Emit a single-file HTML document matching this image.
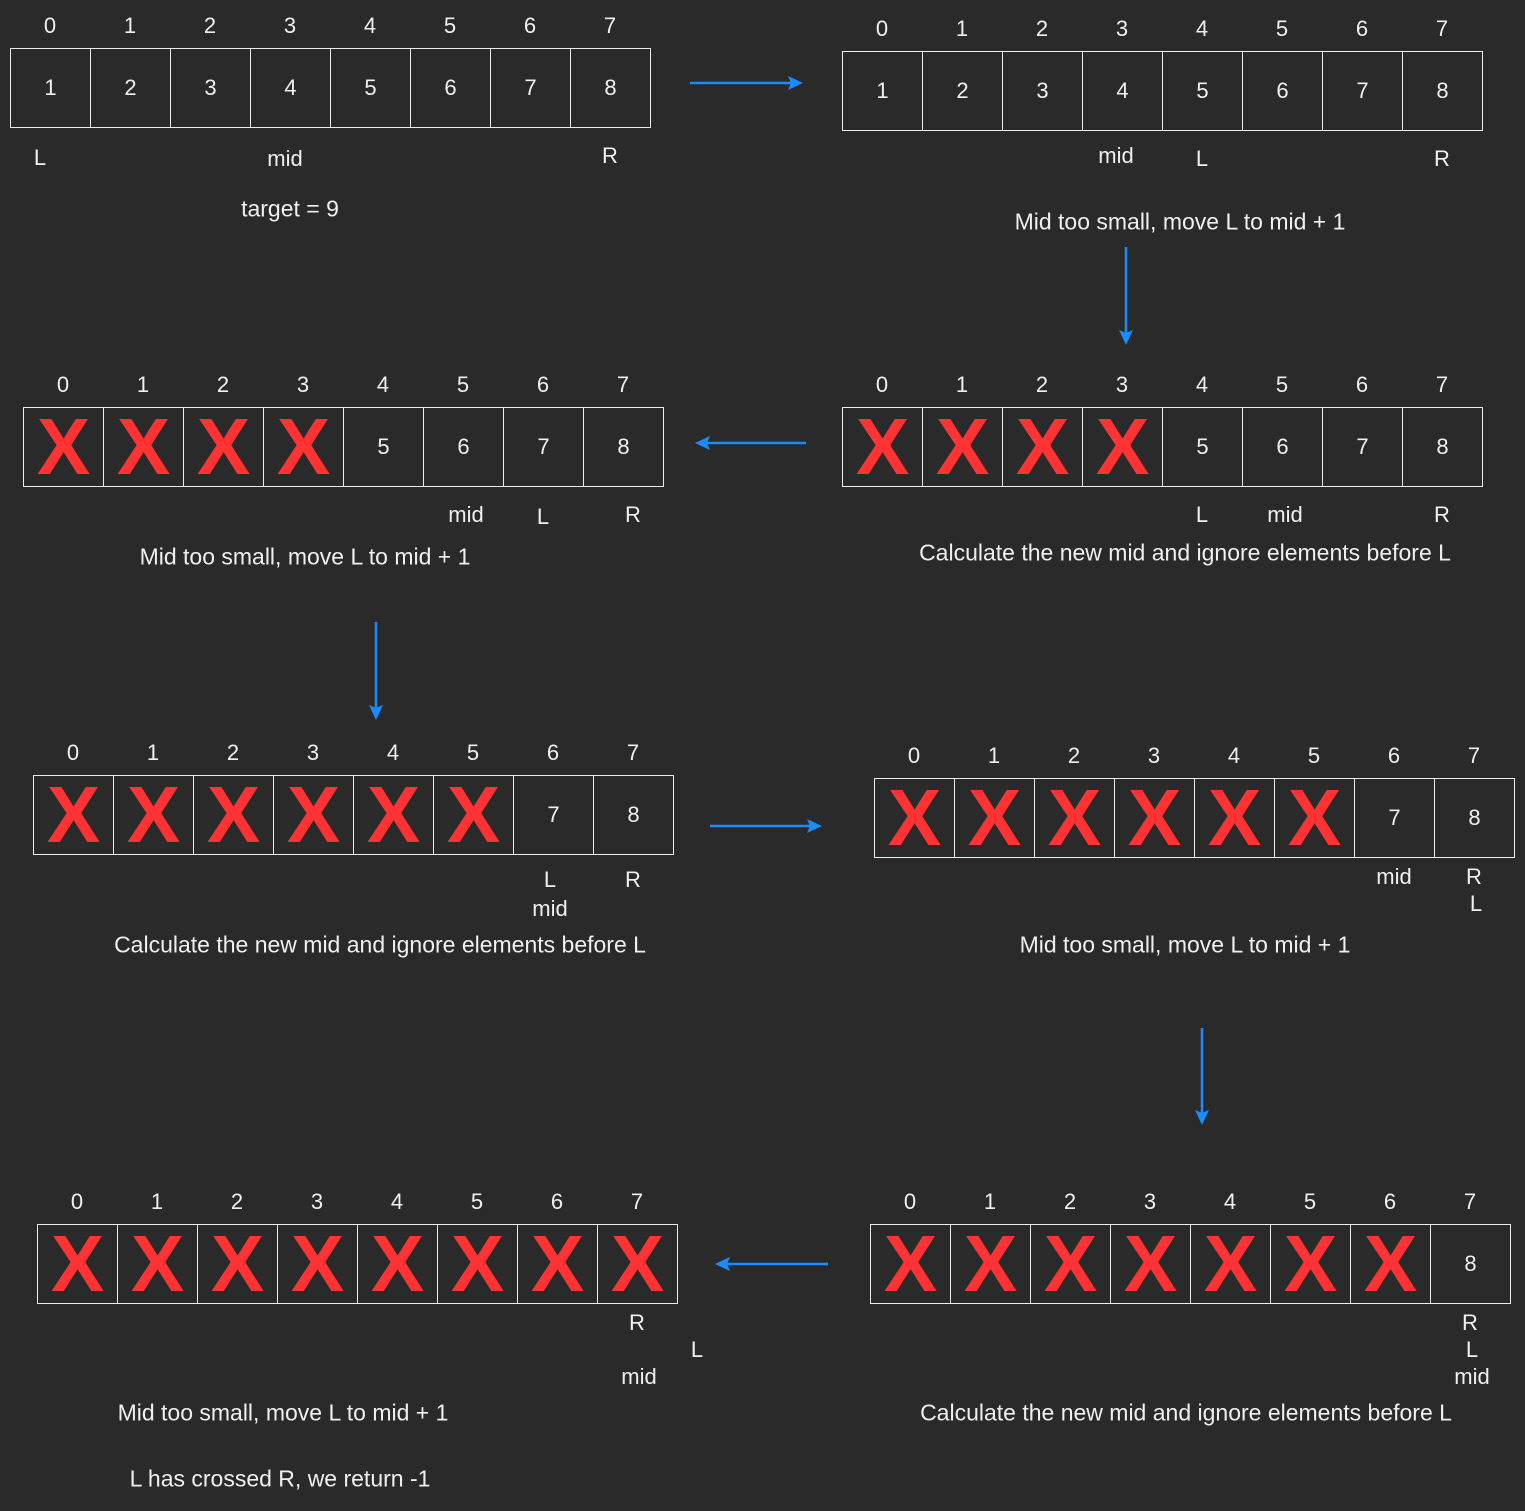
<!DOCTYPE html>
<html><head><meta charset="utf-8"><style>
body{margin:0;width:1525px;height:1511px;background:#2a2a2a;position:relative;overflow:hidden;font-family:"Liberation Sans",sans-serif;color:#f0f0f0}
.a{position:absolute;display:flex;border:1px solid #eee;height:78px}
.a div{width:79px;height:78px;border-right:1px solid #eee;display:flex;align-items:center;justify-content:center;font-size:22px}
.a div:last-child{border-right:none}
.a .x{color:#ff3333;font-weight:bold;font-size:80px;line-height:1}
.i{position:absolute;display:flex}
.i span{width:80px;text-align:center;font-size:22px}
.t{position:absolute;transform:translate(-50%,-50%);font-size:22px;white-space:nowrap}
.s{font-size:23px}
svg{position:absolute;left:0;top:0}
</style></head><body>

<div class="i" style="left:10px;top:13px"><span>0</span><span>1</span><span>2</span><span>3</span><span>4</span><span>5</span><span>6</span><span>7</span></div>
<div class="a" style="left:10px;top:48px"><div>1</div><div>2</div><div>3</div><div>4</div><div>5</div><div>6</div><div>7</div><div>8</div></div>
<div class="t" style="left:40px;top:158px">L</div><div class="t" style="left:285px;top:159px">mid</div><div class="t" style="left:610px;top:156px">R</div>
<div class="t s" style="left:290px;top:209px">target = 9</div>

<div class="i" style="left:842px;top:16px"><span>0</span><span>1</span><span>2</span><span>3</span><span>4</span><span>5</span><span>6</span><span>7</span></div>
<div class="a" style="left:842px;top:51px"><div>1</div><div>2</div><div>3</div><div>4</div><div>5</div><div>6</div><div>7</div><div>8</div></div>
<div class="t" style="left:1116px;top:156px">mid</div><div class="t" style="left:1202px;top:159px">L</div><div class="t" style="left:1442px;top:159px">R</div>
<div class="t s" style="left:1180px;top:222px">Mid too small, move L to mid + 1</div>

<div class="i" style="left:23px;top:372px"><span>0</span><span>1</span><span>2</span><span>3</span><span>4</span><span>5</span><span>6</span><span>7</span></div>
<div class="a" style="left:23px;top:407px"><div class="x">X</div><div class="x">X</div><div class="x">X</div><div class="x">X</div><div>5</div><div>6</div><div>7</div><div>8</div></div>
<div class="t" style="left:466px;top:515px">mid</div><div class="t" style="left:543px;top:517px">L</div><div class="t" style="left:633px;top:515px">R</div>
<div class="t s" style="left:305px;top:557px">Mid too small, move L to mid + 1</div>

<div class="i" style="left:842px;top:372px"><span>0</span><span>1</span><span>2</span><span>3</span><span>4</span><span>5</span><span>6</span><span>7</span></div>
<div class="a" style="left:842px;top:407px"><div class="x">X</div><div class="x">X</div><div class="x">X</div><div class="x">X</div><div>5</div><div>6</div><div>7</div><div>8</div></div>
<div class="t" style="left:1202px;top:515px">L</div><div class="t" style="left:1285px;top:515px">mid</div><div class="t" style="left:1442px;top:515px">R</div>
<div class="t s" style="left:1185px;top:553px">Calculate the new mid and ignore elements before L</div>

<div class="i" style="left:33px;top:740px"><span>0</span><span>1</span><span>2</span><span>3</span><span>4</span><span>5</span><span>6</span><span>7</span></div>
<div class="a" style="left:33px;top:775px"><div class="x">X</div><div class="x">X</div><div class="x">X</div><div class="x">X</div><div class="x">X</div><div class="x">X</div><div>7</div><div>8</div></div>
<div class="t" style="left:550px;top:880px">L</div><div class="t" style="left:550px;top:909px">mid</div><div class="t" style="left:633px;top:880px">R</div>
<div class="t s" style="left:380px;top:945px">Calculate the new mid and ignore elements before L</div>

<div class="i" style="left:874px;top:743px"><span>0</span><span>1</span><span>2</span><span>3</span><span>4</span><span>5</span><span>6</span><span>7</span></div>
<div class="a" style="left:874px;top:778px"><div class="x">X</div><div class="x">X</div><div class="x">X</div><div class="x">X</div><div class="x">X</div><div class="x">X</div><div>7</div><div>8</div></div>
<div class="t" style="left:1394px;top:877px">mid</div><div class="t" style="left:1474px;top:877px">R</div><div class="t" style="left:1476px;top:904px">L</div>
<div class="t s" style="left:1185px;top:945px">Mid too small, move L to mid + 1</div>

<div class="i" style="left:37px;top:1189px"><span>0</span><span>1</span><span>2</span><span>3</span><span>4</span><span>5</span><span>6</span><span>7</span></div>
<div class="a" style="left:37px;top:1224px"><div class="x">X</div><div class="x">X</div><div class="x">X</div><div class="x">X</div><div class="x">X</div><div class="x">X</div><div class="x">X</div><div class="x">X</div></div>
<div class="t" style="left:637px;top:1323px">R</div><div class="t" style="left:697px;top:1350px">L</div><div class="t" style="left:639px;top:1377px">mid</div>
<div class="t s" style="left:283px;top:1413px">Mid too small, move L to mid + 1</div>
<div class="t s" style="left:280px;top:1479px">L has crossed R, we return -1</div>

<div class="i" style="left:870px;top:1189px"><span>0</span><span>1</span><span>2</span><span>3</span><span>4</span><span>5</span><span>6</span><span>7</span></div>
<div class="a" style="left:870px;top:1224px"><div class="x">X</div><div class="x">X</div><div class="x">X</div><div class="x">X</div><div class="x">X</div><div class="x">X</div><div class="x">X</div><div>8</div></div>
<div class="t" style="left:1470px;top:1323px">R</div><div class="t" style="left:1472px;top:1350px">L</div><div class="t" style="left:1472px;top:1377px">mid</div>
<div class="t s" style="left:1186px;top:1413px">Calculate the new mid and ignore elements before L</div>

<svg width="1525" height="1511">
<g stroke="#1a8cff" stroke-width="2.5" fill="#1a8cff">
<line x1="690" y1="83" x2="792" y2="83"/><polygon points="803,83 788,76 791,83 788,90" stroke="none"/>
<line x1="1126" y1="247" x2="1126" y2="334"/><polygon points="1126,345 1119,330 1126,333 1133,330" stroke="none"/>
<line x1="806" y1="443" x2="706" y2="443"/><polygon points="695,443 710,436 707,443 710,450" stroke="none"/>
<line x1="376" y1="622" x2="376" y2="709"/><polygon points="376,720 369,705 376,708 383,705" stroke="none"/>
<line x1="710" y1="826" x2="811" y2="826"/><polygon points="822,826 807,819 810,826 807,833" stroke="none"/>
<line x1="1202" y1="1028" x2="1202" y2="1114"/><polygon points="1202,1125 1195,1110 1202,1113 1209,1110" stroke="none"/>
<line x1="828" y1="1264" x2="726" y2="1264"/><polygon points="715,1264 730,1257 727,1264 730,1271" stroke="none"/>
</g></svg>
</body></html>
